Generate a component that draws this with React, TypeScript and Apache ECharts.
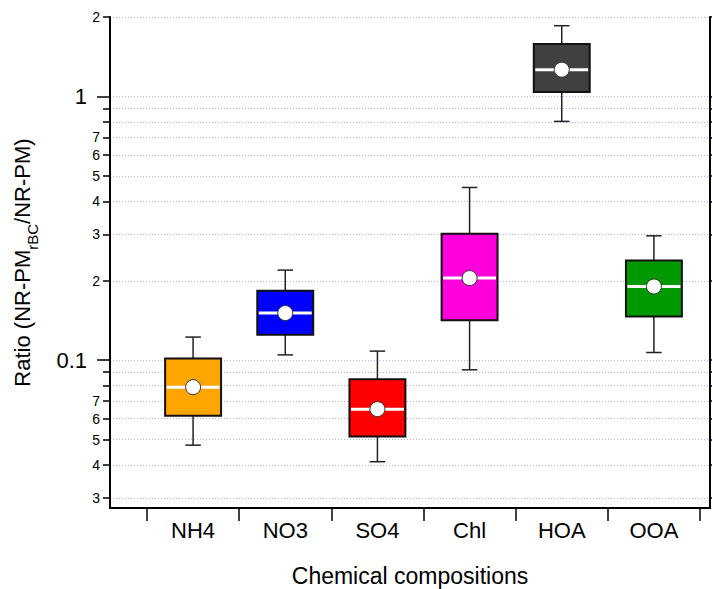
import { useEffect, useRef } from "react";
import * as echarts from "echarts";

// Box statistics per chemical component (ratio NR-PM_rBC / NR-PM)
const categories = ["NH4", "NO3", "SO4", "Chl", "HOA", "OOA"];
const whiskerLow = [0.0476, 0.1047, 0.0412, 0.0919, 0.804, 0.1069];
const quartile1 = [0.0616, 0.1247, 0.0513, 0.1418, 1.039, 0.1463];
const medians = [0.079, 0.1508, 0.0652, 0.2047, 1.263, 0.1902];
const quartile3 = [0.1014, 0.1832, 0.0847, 0.3013, 1.58, 0.2386];
const whiskerHigh = [0.1223, 0.2195, 0.1082, 0.4516, 1.854, 0.2961];
const means = [0.079, 0.1508, 0.0652, 0.2047, 1.263, 0.1902];
const boxColors = ["#FFA500", "#0000FF", "#FF0000", "#FF00DD", "#404040", "#009900"];

// Log-axis ticks
const majorTicks = [0.1, 1];
const majorLabels = ["0.1", "1"];
const minorTicks = [0.03, 0.04, 0.05, 0.06, 0.07, 0.08, 0.09, 0.2, 0.3, 0.4, 0.5, 0.6, 0.7, 0.8, 0.9, 2];
const minorLabels = ["3", "4", "5", "6", "7", "", "", "2", "3", "4", "5", "6", "7", "", "", "2"];
const gridTicks = [0.03, 0.04, 0.05, 0.06, 0.07, 0.08, 0.09, 0.1, 0.2, 0.3, 0.4, 0.5, 0.6, 0.7, 0.8, 0.9, 1, 2];

const Y_MIN = 0.0275;
const Y_MAX = 2.0005;
const FONT = "'Liberation Sans', Arial, sans-serif";

const lookup = (vals: number[], labels: string[]) => (v: number) => {
  const i = vals.findIndex((t) => Math.abs(v - t) / t < 1e-6);
  return i >= 0 ? labels[i] : "";
};

const boxData = categories.map((_, i) => [
  i,
  whiskerLow[i],
  quartile1[i],
  medians[i],
  quartile3[i],
  whiskerHigh[i],
  means[i],
]);

const renderBox = (params: any, api: any) => {
  const i = api.value(0);
  const lo = api.coord([i, api.value(1)]);
  const b1 = api.coord([i, api.value(2)]);
  const md = api.coord([i, api.value(3)]);
  const b3 = api.coord([i, api.value(4)]);
  const hi = api.coord([i, api.value(5)]);
  const mn = api.coord([i, api.value(6)]);
  const band = api.size([1, 0])[0];
  const cx = md[0];
  const boxW = band * 0.607;
  const capW = band * 0.168;
  const whisker = { stroke: "#222", lineWidth: 1.5 };
  return {
    type: "group",
    children: [
      { type: "line", shape: { x1: cx, y1: b3[1], x2: cx, y2: hi[1] }, style: whisker },
      { type: "line", shape: { x1: cx, y1: b1[1], x2: cx, y2: lo[1] }, style: whisker },
      { type: "line", shape: { x1: cx - capW / 2, y1: hi[1], x2: cx + capW / 2, y2: hi[1] }, style: whisker },
      { type: "line", shape: { x1: cx - capW / 2, y1: lo[1], x2: cx + capW / 2, y2: lo[1] }, style: whisker },
      {
        type: "rect",
        shape: { x: cx - boxW / 2, y: b3[1], width: boxW, height: b1[1] - b3[1] },
        style: { fill: boxColors[params.dataIndex], stroke: "#111", lineWidth: 2 },
      },
      {
        type: "line",
        shape: { x1: cx - boxW / 2 + 1.5, y1: md[1], x2: cx + boxW / 2 - 1.5, y2: md[1] },
        style: { stroke: "#fff", lineWidth: 3 },
      },
      {
        type: "circle",
        shape: { cx, cy: mn[1], r: 7.5 },
        style: { fill: "#fff", stroke: "#333", lineWidth: 1 },
      },
    ],
  };
};

const axisBlack = { color: "#000", width: 2 };

const option: any = {
  animation: false,
  backgroundColor: "#fff",
  textStyle: { fontFamily: FONT },
  grid: [
    { left: 110, right: 2, top: 17, bottom: 81, containLabel: false, outerBoundsMode: "none" },
    { left: 147, right: 12, top: 17, bottom: 81, containLabel: false, outerBoundsMode: "none" },
  ],
  xAxis: [
    {
      type: "value",
      gridIndex: 0,
      min: 0,
      max: 1,
      axisLine: { show: true, onZero: false, lineStyle: axisBlack },
      axisTick: { show: false },
      axisLabel: { show: false },
      splitLine: { show: false },
      name: "Chemical compositions",
      nameLocation: "middle",
      nameGap: 56,
      nameTextStyle: { fontFamily: FONT, fontSize: 23, color: "#000" },
    },
    {
      type: "category",
      gridIndex: 1,
      data: categories,
      boundaryGap: true,
      axisLine: { show: false },
      axisTick: { show: true, length: 13, lineStyle: { color: "#000", width: 1.5 } },
      axisLabel: { interval: 0, margin: 11, fontFamily: FONT, fontSize: 22, color: "#000" },
      splitLine: { show: false },
    },
  ],
  yAxis: [
    {
      type: "log",
      gridIndex: 0,
      position: "left",
      min: Y_MIN,
      max: Y_MAX,
      axisLine: { show: true, lineStyle: axisBlack },
      axisTick: {
        show: true,
        length: 13,
        customValues: majorTicks,
        lineStyle: { color: "#000", width: 1.5 },
      },
      axisLabel: {
        customValues: majorTicks,
        margin: 23,
        fontFamily: FONT,
        fontSize: 22,
        color: "#000",
        formatter: lookup(majorTicks, majorLabels),
      },
      splitLine: { show: false },
      name: "{m|Ratio (NR-PM}{sub|rBC}{m|/NR-PM)}",
      nameLocation: "middle",
      nameGap: 77,
      nameTextStyle: {
        fontFamily: FONT,
        fontSize: 22,
        color: "#000",
        rich: {
          m: { fontFamily: FONT, fontSize: 22, lineHeight: 22, verticalAlign: "middle", color: "#000" },
          sub: {
            fontFamily: FONT,
            fontSize: 15,
            lineHeight: 15,
            verticalAlign: "top",
            padding: [14, 0, 0, 0],
            color: "#000",
          },
        },
      },
    },
    {
      type: "log",
      gridIndex: 0,
      position: "left",
      min: Y_MIN,
      max: Y_MAX,
      axisLine: { show: false },
      axisTick: {
        show: true,
        length: 7,
        customValues: minorTicks,
        lineStyle: { color: "#000", width: 1.5 },
      },
      axisLabel: {
        customValues: minorTicks,
        margin: 10,
        fontFamily: FONT,
        fontSize: 14,
        color: "#000",
        formatter: lookup(minorTicks, minorLabels),
      },
      splitLine: { show: false },
    },
    {
      type: "log",
      gridIndex: 0,
      position: "right",
      min: Y_MIN,
      max: Y_MAX,
      axisLine: { show: true, lineStyle: axisBlack },
      axisTick: {
        show: true,
        length: 4,
        customValues: gridTicks,
        lineStyle: { color: "#000", width: 1.5 },
      },
      axisLabel: { show: false },
      splitLine: {
        show: true,
        lineStyle: { color: "#b4b4ee", width: 1, type: [1, 2] },
      },
    },
    {
      type: "log",
      gridIndex: 1,
      min: Y_MIN,
      max: Y_MAX,
      show: false,
      splitLine: { show: false },
    },
  ],
  series: [
    {
      type: "custom",
      name: "Ratio",
      xAxisIndex: 1,
      yAxisIndex: 3,
      data: boxData,
      encode: { x: 0, y: [1, 2, 3, 4, 5, 6] },
      renderItem: renderBox,
      z: 5,
    },
  ],
};

export default function App() {
  const ref = useRef<HTMLDivElement>(null);
  useEffect(() => {
    const chart = echarts.init(ref.current!, null, { renderer: "svg" });
    chart.setOption(option);
    return () => chart.dispose();
  }, []);
  return (
    <div
      ref={ref}
      style={{ position: "absolute", left: 0, top: 0, width: 712, height: 589 }}
    />
  );
}
